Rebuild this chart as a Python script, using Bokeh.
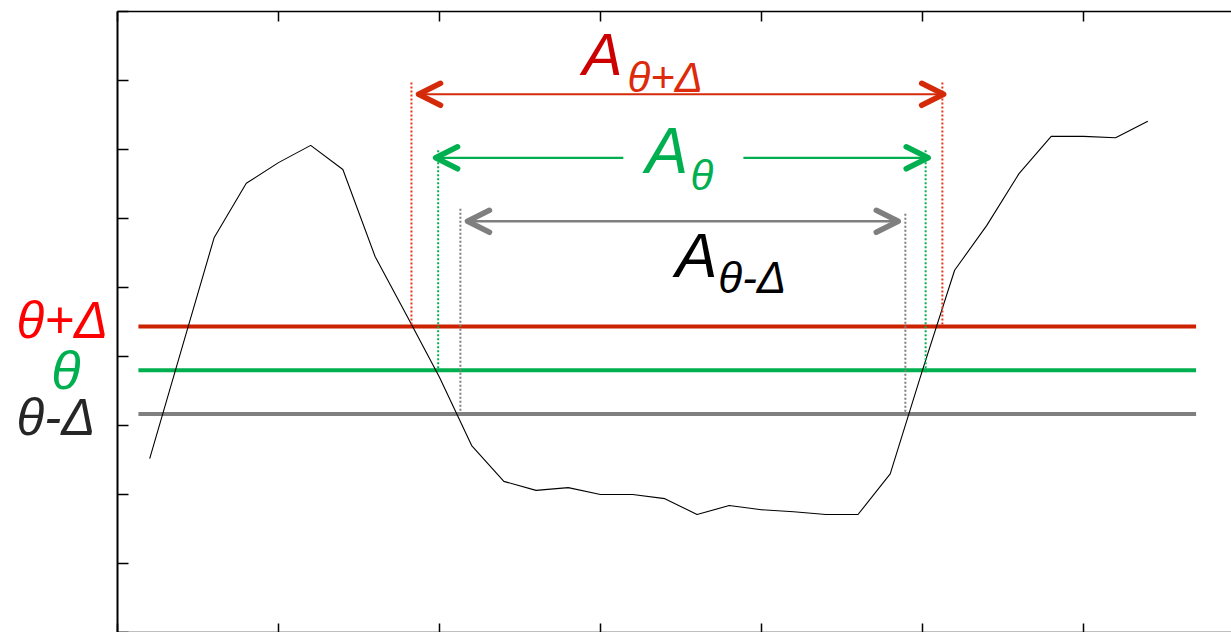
from bokeh.plotting import figure
from bokeh.layouts import row
from bokeh.models import (Range1d, LinearAxis, FixedTicker, Label, Arrow, OpenHead,
                          CustomJSTickFormatter)
from bokeh.core.properties import value
from bokeh.embed import file_html
from bokeh.resources import INLINE

# ---------------- data ----------------
sample_x = list(range(1, 33))
signal_y = [2.52, 4.12, 5.72, 6.51, 6.81, 7.06, 6.71, 5.45, 4.58, 3.70,
            2.71, 2.19, 2.06, 2.10, 2.00, 2.00, 1.94, 1.71, 1.84, 1.78,
            1.75, 1.71, 1.71, 2.30, 3.80, 5.25, 5.90, 6.65, 7.19, 7.19,
            7.17, 7.41]
x_ticks = [0, 5, 10, 15, 20, 25, 30]
y_ticks = [0, 1, 2, 3, 4, 5, 6, 7, 8, 9]
theta = 3.80
delta = 0.635
level_names = ["θ+Δ", "θ", "θ-Δ"]
level_values = [theta + delta, theta, theta - delta]
# where each level's span is marked (dotted verticals)
span_left = [9.13, 9.96, 10.65]
span_right = [25.62, 25.10, 24.47]

# ---------------- style ----------------
FONT = "Liberation Sans"
line_cols = ["#CC2200", "#00B050", "#7F7F7F"]
label_cols = ["#FF0000", "#00B050", "#262626"]
arrow_cols = ["#D42A0A", "#00B050", "#7F7F7F"]
A_cols = ["#CC0000", "#00B050", "#000000"]
sub_cols = ["#DD2A0A", "#00B050", "#000000"]

LEFT_W = 113
TOP = 11
PX_PER_Y = 69.0
Y_MAX = 9.0
yr = Range1d(0, Y_MAX)


def text_y(bottom_px, fs):
    """data y of a text anchor so that the glyph's baseline lands at bottom_px"""
    return Y_MAX - (bottom_px - 0.35 * fs - TOP) / PX_PER_Y


p = figure(width=1231 - LEFT_W, height=632, x_range=Range1d(0, 34.6), y_range=yr,
           x_axis_type=None, y_axis_type=None, output_backend="svg",
           toolbar_location=None, min_border_left=117 - LEFT_W, min_border_right=0,
           min_border_top=TOP, min_border_bottom=0)
p.outline_line_color = None
p.background_fill_color = "white"
p.border_fill_color = "white"


def mk_axis(ticks, lw, tick_len):
    return LinearAxis(ticker=FixedTicker(ticks=ticks),
                      formatter=CustomJSTickFormatter(code="return ''"),
                      major_tick_in=tick_len, major_tick_out=0,
                      major_tick_line_width=1.5, major_tick_line_color="black",
                      minor_tick_line_color=None, axis_line_width=lw,
                      axis_line_color="black", major_label_standoff=0,
                      major_label_text_font_size="1px")


p.add_layout(mk_axis(x_ticks, 1.5, 10), "above")
p.add_layout(mk_axis(x_ticks, 1.5, 9), "below")
p.add_layout(mk_axis(y_ticks, 2, 11), "left")

# threshold lines
p.segment(x0=[0.65] * 3, x1=[33.5] * 3, y0=level_values, y1=level_values,
          line_color=line_cols, line_width=4)

# signal
p.line(sample_x, signal_y, line_color="black", line_width=1.1)

# dotted verticals
tops_l = [7.97, 6.99, 6.14]
tops_r = [7.97, 6.99, 6.07]
bot_r = [level_values[0], level_values[1] - 0.05, level_values[2]]
for i in range(3):
    p.segment(x0=[span_left[i], span_right[i]], x1=[span_left[i], span_right[i]],
              y0=[tops_l[i], tops_r[i]], y1=[level_values[i], bot_r[i]],
              line_color=line_cols[i] if i != 0 else "#E8361A",
              line_width=2, line_dash="2 2")

# arrows
arrow_y = [7.80, 6.88, 5.96]
tip_l = [9.35, 9.88, 10.87]
tip_r = [25.66, 25.18, 24.25]
shaft_w = [2, 2.2, 2.5]


def head(c):
    return OpenHead(size=22, line_color=c, line_width=5.5, line_cap="round",
                    line_join="round")


for i in (0, 2):
    p.add_layout(Arrow(start=head(arrow_cols[i]), end=head(arrow_cols[i]),
                       x_start=tip_l[i], x_end=tip_r[i], y_start=arrow_y[i], y_end=arrow_y[i],
                       line_color=arrow_cols[i], line_width=shaft_w[i]))
p.add_layout(Arrow(end=head(arrow_cols[1]), x_start=15.71, x_end=tip_l[1],
                   y_start=arrow_y[1], y_end=arrow_y[1],
                   line_color=arrow_cols[1], line_width=shaft_w[1]))
p.add_layout(Arrow(end=head(arrow_cols[1]), x_start=19.44, x_end=tip_r[1],
                   y_start=arrow_y[1], y_end=arrow_y[1],
                   line_color=arrow_cols[1], line_width=shaft_w[1]))

# "A" labels with subscripts: (x, baseline px, font px)
A_pos = [(14.44, 75, 60), (16.40, 173, 64), (17.33, 277, 63)]
sub_pos = [(15.84, 92, 42), (17.80, 190, 42), (18.66, 292, 44)]
for i in range(3):
    ax_, bpx, fs = A_pos[i]
    p.add_layout(Label(x=ax_, y=text_y(bpx, fs), text="A", text_color=A_cols[i],
                       text_font=FONT, text_font_style="italic", text_font_size=f"{fs}px",
                       text_align="left", text_baseline="alphabetic"))
    sx, sbpx, sfs = sub_pos[i]
    p.add_layout(Label(x=sx, y=text_y(sbpx, sfs), text=level_names[i], text_color=sub_cols[i],
                       text_font=FONT, text_font_style="italic", text_font_size=f"{sfs}px",
                       text_align="left", text_baseline="alphabetic"))

# level labels in a narrow panel to the left of the axis
side = figure(width=LEFT_W, height=632, x_range=Range1d(0, LEFT_W), y_range=yr,
              x_axis_type=None, y_axis_type=None, output_backend="svg",
              toolbar_location=None, min_border_left=0, min_border_right=0,
              min_border_top=TOP, min_border_bottom=0)
side.outline_line_color = None
side.grid.visible = False
lab_x = [16, 65.5, 16]
lab_bottom = [338, 388, 435]
lab_align = ["left", "center", "left"]
lab_size = [51, 54, 51]
for i in range(3):
    side.text(x=[lab_x[i]], y=[text_y(lab_bottom[i], lab_size[i])], text=[level_names[i]],
              text_color=label_cols[i], text_font=value(FONT), text_font_style="italic",
              text_font_size=f"{lab_size[i]}px", text_align=lab_align[i],
              text_baseline="alphabetic")

layout = row(side, p, spacing=0)
open("out.html", "w").write(file_html(layout, INLINE))
